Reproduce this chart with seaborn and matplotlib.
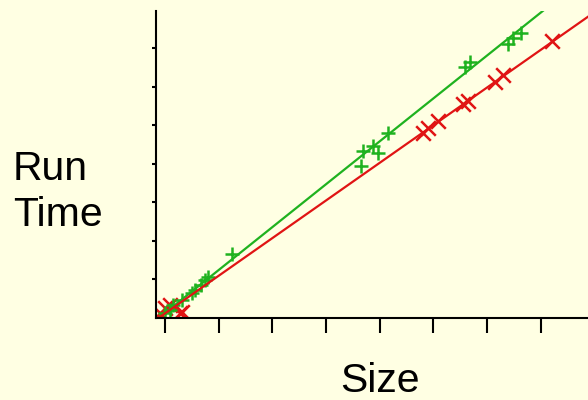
import matplotlib
matplotlib.use('Agg')
import matplotlib.pyplot as plt
import seaborn as sns
import pandas as pd

# green "+" series
green_size = [0.0, 0.09, 0.155, 0.31, 0.5, 0.56, 0.68, 0.745, 0.81, 1.24,
              3.66, 3.69, 3.88, 3.97, 4.16, 5.59, 5.68, 6.39, 6.49, 6.64]
green_time = [0.13, 0.2, 0.33, 0.46, 0.64, 0.72, 0.85, 0.98, 1.06, 1.67,
              3.93, 4.33, 4.46, 4.29, 4.79, 6.52, 6.63, 7.1, 7.25, 7.4]

# red "x" series
red_size = [-0.09, 0.0, 0.09, 0.28, 0.31, 4.81, 4.9, 5.09, 5.56, 5.65,
            6.15, 6.29, 7.21]
red_time = [0.12, 0.26, 0.33, 0.13, 0.16, 4.8, 4.93, 5.1, 5.55, 5.62,
            6.13, 6.29, 7.19]

# fitted lines (endpoints)
green_line_size = [-0.09, 7.1]
green_line_time = [0.03, 8.03]
red_line_size = [-0.09, 7.95]
red_line_time = [0.03, 7.88]

x_ticks = [0, 1, 2, 3, 4, 5, 6, 7]
y_ticks = [1, 2, 3, 4, 5, 6, 7]

GREEN = '#1fb21f'
RED = '#e01414'
BG = '#ffffe3'

plt.rcParams['font.family'] = ['Liberation Sans', 'DejaVu Sans']

fig = plt.figure(figsize=(5.88, 4.0), dpi=100, facecolor=BG)
ax = fig.add_axes([0.265, 0.205, 0.735, 0.7675])
ax.set_facecolor(BG)

sns.lineplot(x=green_line_size, y=green_line_time, color=GREEN, lw=1.6, ax=ax)
sns.lineplot(x=red_line_size, y=red_line_time, color=RED, lw=1.6, ax=ax)

green_df = pd.DataFrame({'size': green_size, 'time': green_time})
red_df = pd.DataFrame({'size': red_size, 'time': red_time})
sns.scatterplot(data=red_df, x='size', y='time', marker='x', s=110,
                color=RED, linewidth=1.8, ax=ax)
sns.scatterplot(data=green_df, x='size', y='time', marker='+', s=110,
                color=GREEN, linewidth=1.8, ax=ax)

ax.set_xlim(-0.17, 7.88)
ax.set_ylim(0, 7.96)
ax.set_xticks(x_ticks)
ax.set_yticks(y_ticks)
ax.set_xticklabels([])
ax.set_yticklabels([])
ax.set_xlabel('')
ax.set_ylabel('')
ax.tick_params(axis='x', direction='out', length=11, width=1.5, color='black')
ax.tick_params(axis='y', direction='out', length=3, width=1.5, color='black')
for side in ['top', 'right']:
    ax.spines[side].set_visible(False)
for side in ['left', 'bottom']:
    ax.spines[side].set_linewidth(1.5)
    ax.spines[side].set_color('black')

fig.text(13 / 588, 1 - 192 / 400, 'Run\nTime', fontsize=29.5, ha='left',
         va='center', linespacing=1.28)
fig.text(380 / 588, 1 - 381 / 400, 'Size', fontsize=29.5, ha='center',
         va='center')

fig.savefig('out.png', dpi=100, facecolor=BG)
